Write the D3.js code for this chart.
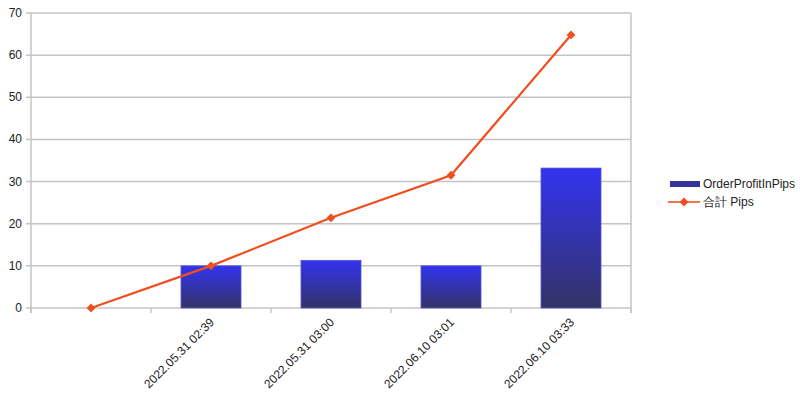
<!DOCTYPE html>
<html><head><meta charset="utf-8">
<script src="https://cdn.jsdelivr.net/npm/d3@7"></script>
<style>body{margin:0;background:#fff;} text{font-family:"Liberation Sans",Arial,sans-serif;}</style>
</head><body>
<svg id="c" width="800" height="401"></svg>
<script>
const categories = ["", "2022.05.31 02:39", "2022.05.31 03:00", "2022.06.10 03:01", "2022.06.10 03:33"];
const barValues = [null, 10, 11.3, 10, 33.2];
const lineValues = [0, 10, 21.4, 31.5, 64.8];
const yTicks = [0, 10, 20, 30, 40, 50, 60, 70];
const barName = "OrderProfitInPips";
const lineName = "合計 Pips";

const svg = d3.select("#c");
const L = 31, R = 631, T = 13, B = 308;
const x = d3.scaleBand().domain(categories.map((c,i)=>i)).range([L, R]).paddingInner(0).paddingOuter(0);
const y = d3.scaleLinear().domain([0, 70]).range([B, T]);
const grid = "#c4c4c4";

const defs = svg.append("defs");
const g = defs.append("linearGradient").attr("id","bg").attr("x1",0).attr("y1",0).attr("x2",0).attr("y2",1);
g.append("stop").attr("offset","0%").attr("stop-color","#3333f0");
g.append("stop").attr("offset","100%").attr("stop-color","#333366");

// grid
svg.append("g").selectAll("line").data(yTicks).join("line")
  .attr("x1", L-5).attr("x2", R).attr("y1", d=>y(d)).attr("y2", d=>y(d))
  .attr("stroke", grid).attr("stroke-width", 1.5);
// y labels
svg.append("g").selectAll("text").data(yTicks).join("text")
  .attr("x", 22).attr("y", d=>y(d)+4).attr("text-anchor","end")
  .attr("font-size", 12).attr("fill","#222").text(d=>d);
// axes lines
svg.append("line").attr("x1",L).attr("x2",L).attr("y1",T).attr("y2",B+5).attr("stroke",grid).attr("stroke-width",1.5);
svg.append("line").attr("x1",R).attr("x2",R).attr("y1",T).attr("y2",B+5).attr("stroke",grid).attr("stroke-width",1.5);
// x ticks
const xt = d3.range(categories.length+1).map(i => L + i*x.bandwidth());
svg.append("g").selectAll("line").data(xt).join("line")
  .attr("x1",d=>d).attr("x2",d=>d).attr("y1",B).attr("y2",B+5).attr("stroke",grid).attr("stroke-width",1.5);

// bars
const bw = x.bandwidth()*0.5;
svg.append("g").selectAll("rect").data(barValues.map((v,i)=>({v,i})).filter(d=>d.v!=null)).join("rect")
  .attr("x", d=>x(d.i)+x.bandwidth()/2-bw/2).attr("width", bw)
  .attr("y", d=>y(d.v)).attr("height", d=>y(0)-y(d.v))
  .attr("fill","url(#bg)").attr("stroke","#5555cc").attr("stroke-width",0.8);

// line
const lc = "#f04e1e";
const line = d3.line().x((d,i)=>x(i)+x.bandwidth()/2).y(d=>y(d));
svg.append("path").datum(lineValues).attr("d", line).attr("fill","none").attr("stroke",lc).attr("stroke-width",2.2);
const diamond = d3.symbol().type(d3.symbolDiamond2).size(50);
svg.append("g").selectAll("path").data(lineValues).join("path")
  .attr("d", diamond).attr("transform",(d,i)=>`translate(${x(i)+x.bandwidth()/2},${y(d)})`).attr("fill",lc);

// x labels
svg.append("g").selectAll("text").data(categories).join("text")
  .attr("transform",(d,i)=>`translate(${x(i)+x.bandwidth()/2+4},${B+15}) rotate(-45)`)
  .attr("text-anchor","end").attr("font-size",12).attr("fill","#222").text(d=>d);

// legend
svg.append("rect").attr("x",670).attr("y",181).attr("width",30).attr("height",6).attr("fill","#333399");
svg.append("text").attr("x",703).attr("y",188).attr("font-size",12).attr("fill","#222").text(barName);
svg.append("line").attr("x1",668).attr("x2",700).attr("y1",202).attr("y2",202).attr("stroke",lc).attr("stroke-width",1.6);
svg.append("path").attr("d",diamond).attr("transform","translate(684,202)").attr("fill",lc);
svg.append("text").attr("x",703).attr("y",206).attr("font-size",12).attr("fill","#222").text(lineName);
</script>
</body></html>
